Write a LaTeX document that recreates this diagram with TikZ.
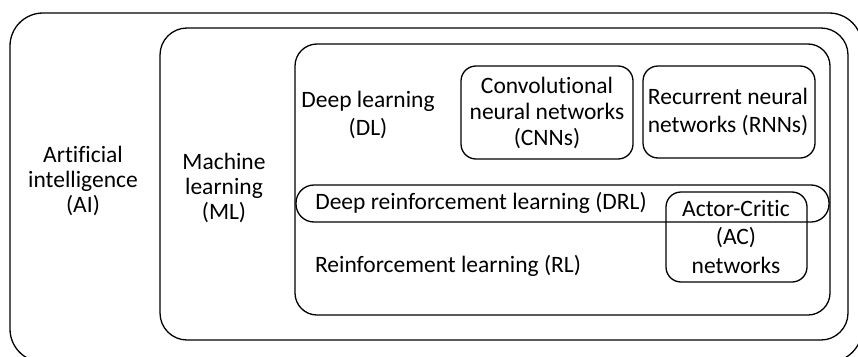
\documentclass[tikz,border=0pt]{standalone}
\usepackage{fontspec}
\setmainfont{Carlito}[Ligatures=NoCommon]
\begin{document}
\begin{tikzpicture}[x=1pt,y=-1pt,
  frame/.style={draw, line width=1.3pt, inner sep=0pt, outer sep=0pt},
  label/.style={align=center, inner sep=0pt, font=\fontsize{23.5}{26}\selectfont},
  tightlabel/.style={label, font=\fontsize{23.5}{25}\selectfont},
  looselabel/.style={label, font=\fontsize{23.5}{28.5}\selectfont}]
\useasboundingbox (0,0) rectangle (858,356);
\clip (0,0) rectangle (858,356);
\fill[white] (0,0) rectangle (858,356);

% nested domain frames
\node[frame, rounded corners=33pt, minimum width=852pt, minimum height=349pt] (ai) at (436,187.5) {};
\node[frame, rounded corners=27pt, minimum width=688pt, minimum height=312pt] (ml) at (504,184) {};
\node[frame, rounded corners=22pt, minimum width=535pt, minimum height=271pt] (dl) at (562.5,179.5) {};
\node[frame, rounded corners=15pt, minimum width=172pt, minimum height=93pt] (cnn) at (547,112.5) {};
\node[frame, rounded corners=15pt, minimum width=172pt, minimum height=92pt] (rnn) at (729,112) {};
\node[frame, rounded corners=18pt, minimum width=533pt, minimum height=37pt] (drl) at (562.5,203.5) {};
\node[frame, rounded corners=15pt, minimum width=141pt, minimum height=90pt] (ac) at (736.5,237) {};

% labels
\node[tightlabel] (aitext) at (83,181) {Artificial\\intelligence\\(AI)};
\node[tightlabel] (mltext) at (224,188) {Machine\\learning\\(ML)};
\node[looselabel] (dltext) at (368,115) {Deep learning\\(DL)};
\node[label] (cnntext) at (547,113) {Convolutional\\neural networks\\(CNNs)};
\node[looselabel] (rnntext) at (728,112) {Recurrent neural\\networks (RNNs)};
\node[label] (drltext) at (481,203) {Deep reinforcement learning (DRL)};
\node[label] (rltext) at (448,266) {Reinforcement learning (RL)};
\node[looselabel] (actext) at (736,236.5) {Actor-Critic\\(AC)\\networks};
\end{tikzpicture}
\end{document}
